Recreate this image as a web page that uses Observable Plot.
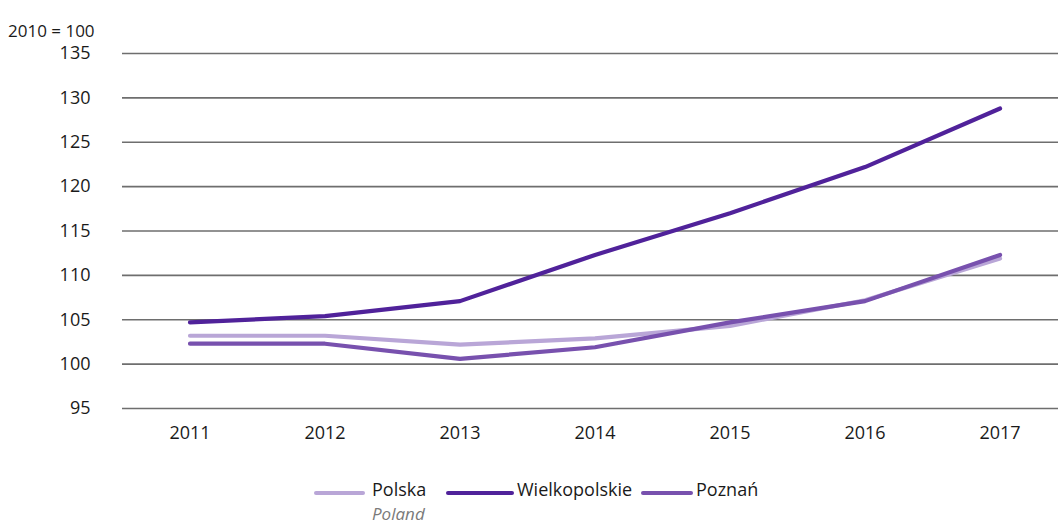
<!DOCTYPE html>
<html>
<head>
<meta charset="utf-8">
<script src="https://cdn.jsdelivr.net/npm/d3@7"></script>
<script src="https://cdn.jsdelivr.net/npm/@observablehq/plot@0.6"></script>
<style>
  html, body { margin: 0; padding: 0; background: #fff; }
  body { width: 1058px; height: 525px; position: relative; overflow: hidden; font-family: "Open Sans", sans-serif; color: #1a1a1a; }
  #unit { position: absolute; left: 8px; top: 20px; font-size: 17px; line-height: 22px; }
  #chart { position: absolute; left: 0; top: 0; }
  .sw { position: absolute; height: 4px; border-radius: 2px; top: 491px; }
  .lt { position: absolute; top: 477px; font-size: 18px; line-height: normal; white-space: nowrap; }
  .sub { position: absolute; top: 501.6px; font-size: 17px; line-height: normal; font-style: italic; color: #7a7a7a; white-space: nowrap; }
</style>
</head>
<body>
<div id="unit">2010 = 100</div>
<div id="chart"></div>
<div id="legend"></div>
<script>
const years = [2011, 2012, 2013, 2014, 2015, 2016, 2017];
const polska = [103.2, 103.2, 102.2, 102.9, 104.3, 107.2, 111.9];
const wielkopolskie = [104.7, 105.4, 107.1, 112.3, 117.0, 122.2, 128.8];
const poznan = [102.3, 102.3, 100.6, 101.9, 104.7, 107.1, 112.3];
const seriesNames = ["Polska", "Wielkopolskie", "Poznań"];
const seriesSub = ["Poland", "", ""];
const seriesColors = ["#b9a6d7", "#50229a", "#7851ae"];
const yTicks = [95, 100, 105, 110, 115, 120, 125, 130, 135];

const seriesValues = [polska, wielkopolskie, poznan];
const data = seriesNames.flatMap((name, i) =>
  years.map((year, j) => ({ name, year, value: seriesValues[i][j] }))
);

const chart = Plot.plot({
  width: 1058,
  height: 460,
  marginLeft: 122,
  marginRight: 0,
  marginTop: 53,
  marginBottom: 52,
  style: { fontFamily: "Open Sans, sans-serif", fontSize: "18px", color: "#1a1a1a", overflow: "visible" },
  x: { type: "linear", domain: [2010.5, 2017.433], label: null },
  y: { domain: [95, 135], label: null },
  color: { domain: seriesNames, range: seriesColors },
  marks: [
    Plot.ruleY(yTicks, { stroke: "#6e6e6e", strokeWidth: 1.6 }),
    Plot.axisX({ ticks: years, tickFormat: d => String(d), tickSize: 0, tickPadding: 18, fontSize: 18, label: null }),
    Plot.axisY({ ticks: yTicks, tickSize: 0, tickPadding: 32, fontSize: 18, label: null }),
    Plot.line(data, { x: "year", y: "value", z: "name", stroke: "name", strokeWidth: 4.2, strokeLinecap: "round", strokeLinejoin: "round" })
  ]
});
document.getElementById("chart").appendChild(chart);

const swatchX = [[314, 365], [446, 514], [641, 693]];
const textX = [372, 517, 696];
const legend = document.getElementById("legend");
seriesNames.forEach((name, i) => {
  const sw = document.createElement("div");
  sw.className = "sw";
  sw.style.left = swatchX[i][0] + "px";
  sw.style.width = (swatchX[i][1] - swatchX[i][0]) + "px";
  sw.style.background = seriesColors[i];
  legend.appendChild(sw);
  const txt = document.createElement("div");
  txt.className = "lt";
  txt.style.left = textX[i] + "px";
  txt.textContent = name;
  legend.appendChild(txt);
  if (seriesSub[i]) {
    const s = document.createElement("div");
    s.className = "sub";
    s.style.left = textX[i] + "px";
    s.textContent = seriesSub[i];
    legend.appendChild(s);
  }
});
</script>
</body>
</html>
